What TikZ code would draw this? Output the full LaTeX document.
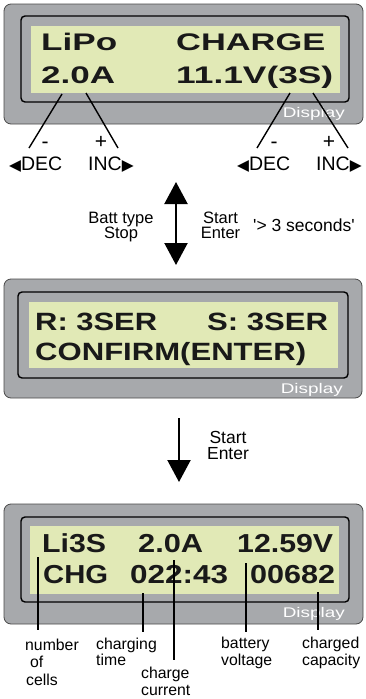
\documentclass[tikz,border=0pt]{standalone}
\usepackage{fontspec}
\setmainfont{Liberation Sans}
\newfontfamily\symfont{DejaVu Sans}
\usetikzlibrary{arrows.meta}
\definecolor{panelgray}{HTML}{A7A9AC}
\definecolor{lcdgreen}{HTML}{E1E9B6}
\definecolor{rimgray}{HTML}{4A4A4A}
\newcommand\lcdt[3]{\resizebox{#2pt}{\height}{\fontsize{#1}{#1}\selectfont\bfseries #3}}
\newcommand\disptext{\resizebox{62pt}{\height}{\fontsize{14}{14}\selectfont Display}}
\newcommand\ltri{{\symfont\fontsize{15.5}{15}\selectfont ◀}}
\newcommand\rtri{{\symfont\fontsize{15.5}{15}\selectfont ▶}}
\begin{document}
\begin{tikzpicture}[x=1pt,y=-1pt,
  outerbox/.style={draw=rimgray, line width=0.8pt, fill=panelgray, rounded corners=7pt},
  innerbox/.style={draw=black, line width=1.4pt, fill=panelgray, rounded corners=4pt},
  lcdbox/.style={fill=lcdgreen},
  lcd/.style={inner sep=0pt, anchor=base west, text=black!90},
  disp/.style={inner sep=0pt, anchor=base east, text=white},
  lbl/.style={inner sep=0pt, font=\fontsize{19.5}{20}\selectfont},
  pm/.style={inner sep=0pt, font=\fontsize{21}{21}\selectfont},
  mid/.style={inner sep=0pt, anchor=base, font=\fontsize{16.5}{17}\selectfont},
  small/.style={inner sep=0pt, anchor=base west, font=\fontsize{15.8}{16}\selectfont},
  pointer/.style={draw=black, line width=1.4pt},
  vpointer/.style={draw=black, line width=1.2pt},
  bigarrow/.style={draw=black, line width=2.2pt, -{Triangle[width=23pt,length=22pt]}},
  bigdarrow/.style={draw=black, line width=2.2pt, {Triangle[width=23pt,length=22pt]}-{Triangle[width=23pt,length=22pt]}}
]
\useasboundingbox (0,0) rectangle (365,699);

% ---------- Panel 1 ----------
\draw[outerbox] (4,4) rectangle (363,124);
\draw[innerbox] (21,16) rectangle (349,102);
\fill[lcdbox] (31,26) rectangle (340,93);
\node[lcd] (p1a) at (41,50) {\lcdt{24}{76}{LiPo}};
\node[lcd] (p1b) at (176,50) {\lcdt{24}{149}{CHARGE}};
\node[lcd] (p1c) at (41,83) {\lcdt{24}{74}{2.0A}};
\node[lcd] (p1d) at (176,83) {\lcdt{24}{157}{11.1V(3S)}};
\node[disp] (p1disp) at (345,117) {\disptext};

\coordinate (l1a) at (62,94);  \coordinate (l1b) at (29,148);
\coordinate (l2a) at (86,93);  \coordinate (l2b) at (118,148);
\coordinate (r1a) at (290,93); \coordinate (r1b) at (257,148);
\coordinate (r2a) at (313,93); \coordinate (r2b) at (348,148);
\draw[pointer] (l1a) -- (l1b);
\draw[pointer] (l2a) -- (l2b);
\draw[pointer] (r1a) -- (r1b);
\draw[pointer] (r2a) -- (r2b);

\node[pm] (minusL) at (45,145) {-};
\node[pm] (plusL) at (101,142) {+};
\node[pm] (minusR) at (274,145) {-};
\node[pm] (plusR) at (329,142) {+};
\node[lbl, anchor=base west] (decL) at (9,170) {\ltri DEC};
\node[lbl, anchor=base west] (incL) at (88,170) {INC\rtri};
\node[lbl, anchor=base west] (decR) at (237,170) {\ltri DEC};
\node[lbl, anchor=base west] (incR) at (316,170) {INC\rtri};

% ---------- Transition 1 ----------
\coordinate (a1top) at (176,182);
\coordinate (a1bot) at (176,265);
\draw[bigdarrow] (a1top) -- (a1bot);
\node[mid] (batt) at (121,223) {Batt type};
\node[mid] (stop) at (121,238) {Stop};
\node[mid] (start1) at (220.5,223) {Start};
\node[mid] (enter1) at (220.5,238) {Enter};
\node[mid, anchor=base west, font=\fontsize{17.5}{18}\selectfont] (secs) at (253,231) {\textquotesingle> 3 seconds\textquotesingle};

% ---------- Panel 2 ----------
\draw[outerbox] (4,279) rectangle (362,398);
\draw[innerbox] (18,292) rectangle (348,378);
\fill[lcdbox] (29,302) rectangle (338,368);
\node[lcd] (p2a) at (35,330) {\lcdt{25}{122}{R: 3SER}};
\node[lcd] (p2b) at (207,330) {\lcdt{25}{121}{S: 3SER}};
\node[lcd] (p2c) at (35,360) {\lcdt{25}{271}{CONFIRM(ENTER)}};
\node[disp] (p2disp) at (343,393) {\disptext};

% ---------- Transition 2 ----------
\coordinate (a2top) at (179,418);
\coordinate (a2bot) at (179,482);
\draw[bigarrow] (a2top) -- (a2bot);
\node[mid, font=\fontsize{17.5}{18}\selectfont] (start2) at (228,443) {Start};
\node[mid, font=\fontsize{17.5}{18}\selectfont] (enter2) at (228,459) {Enter};

% ---------- Panel 3 ----------
\draw[outerbox] (4,504) rectangle (363,624);
\draw[innerbox] (21,517) rectangle (349,602);
\fill[lcdbox] (30,526) rectangle (339,594);
\node[lcd] (p3a) at (42,552) {\lcdt{26}{64}{Li3S}};
\node[lcd] (p3b) at (138,552) {\lcdt{26}{65}{2.0A}};
\node[lcd] (p3c) at (237,552) {\lcdt{26}{96}{12.59V}};
\node[lcd] (p3d) at (43,583) {\lcdt{26}{65}{CHG}};
\node[lcd] (p3e) at (130,583) {\lcdt{26}{98}{022:43}};
\node[lcd] (p3f) at (250,583) {\lcdt{26}{85}{00682}};
\node[disp] (p3disp) at (345,617) {\disptext};

\coordinate (c1a) at (38,557);  \coordinate (c1b) at (38,630);
\coordinate (c2a) at (143,593); \coordinate (c2b) at (143,632);
\coordinate (c3a) at (174,560); \coordinate (c3b) at (174,660);
\coordinate (c4a) at (246,563); \coordinate (c4b) at (246,632);
\coordinate (c5a) at (318,592); \coordinate (c5b) at (318,630);
\draw[vpointer] (c1a) -- (c1b);
\draw[vpointer] (c2a) -- (c2b);
\draw[vpointer] (c3a) -- (c3b);
\draw[vpointer] (c4a) -- (c4b);
\draw[vpointer] (c5a) -- (c5b);

\node[small] (n1) at (25,650) {number};
\node[small] (n2) at (30,667) {of};
\node[small] (n3) at (26,685) {cells};
\node[small] (t1) at (96,649) {charging};
\node[small] (t2) at (96,665) {time};
\node[small] (cc1) at (141,678) {charge};
\node[small] (cc2) at (141,695) {current};
\node[small] (b1) at (221,648) {battery};
\node[small] (b2) at (221,665) {voltage};
\node[small] (cap1) at (302,648) {charged};
\node[small] (cap2) at (302,665) {capacity};
\end{tikzpicture}
\end{document}
